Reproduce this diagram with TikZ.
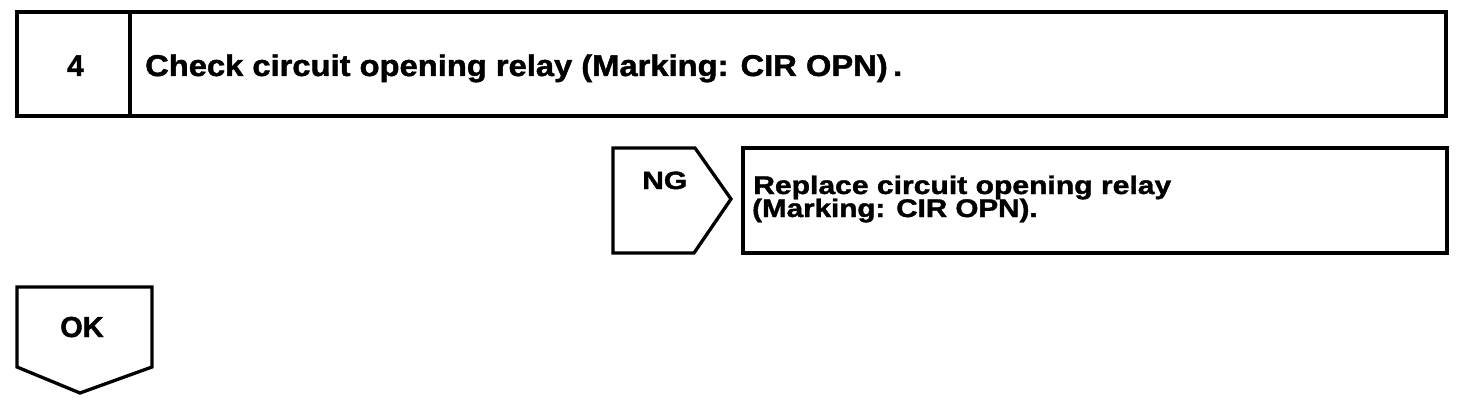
\documentclass[tikz,border=0pt]{standalone}
\usepackage{fontspec}
\setmainfont{Liberation Sans}[BoldFeatures={FakeBold=1.4}]
\begin{document}
\begin{tikzpicture}[x=1pt,y=-1pt,
  box/.style={line width=3.3pt, line join=miter},
  lbl/.style={inner sep=0pt, anchor=base west, font=\bfseries}]
\useasboundingbox (0,0) rectangle (1472,420);
% header
\draw[box] (17,12) coordinate (hTL) rectangle (1446,116) coordinate (hBR);
\draw[box] (130,12) coordinate (dT) -- (130,116) coordinate (dB);
\node[lbl] (num) at (67,76) {\fontsize{30}{30}\selectfont\scalebox{1.0}[1]{4}};
\node[lbl] (title) at (145,76) {\fontsize{30}{30}\selectfont\scalebox{1.09}[1]{Check circuit opening relay (Marking: CIR OPN)\,.}};
% NG
\draw[box] (613,148) coordinate (ngA) -- (695,148) -- (731,199) coordinate (ngTip) -- (694,253) -- (613,253) -- cycle;
\node[lbl] (ng) at (642,189) {\fontsize{25}{25}\selectfont\scalebox{1.2}[1]{NG}};
\draw[box] (743,148) coordinate (rTL) rectangle (1447,253) coordinate (rBR);
\node[lbl] (rep1) at (753,194) {\fontsize{25.5}{25}\selectfont\scalebox{1.18}[1]{Replace circuit opening relay}};
\node[lbl] (rep2) at (752,217) {\fontsize{25.5}{25}\selectfont\scalebox{1.16}[1]{(Marking: CIR OPN).}};
% OK
\draw[box] (17,287) coordinate (okA) -- (152,287) -- (152,367) -- (80,393) coordinate (okTip) -- (17,367) -- cycle;
\node[lbl] (ok) at (60,337) {\fontsize{29}{29}\selectfont\scalebox{1.0}[1]{OK}};
\end{tikzpicture}
\end{document}
